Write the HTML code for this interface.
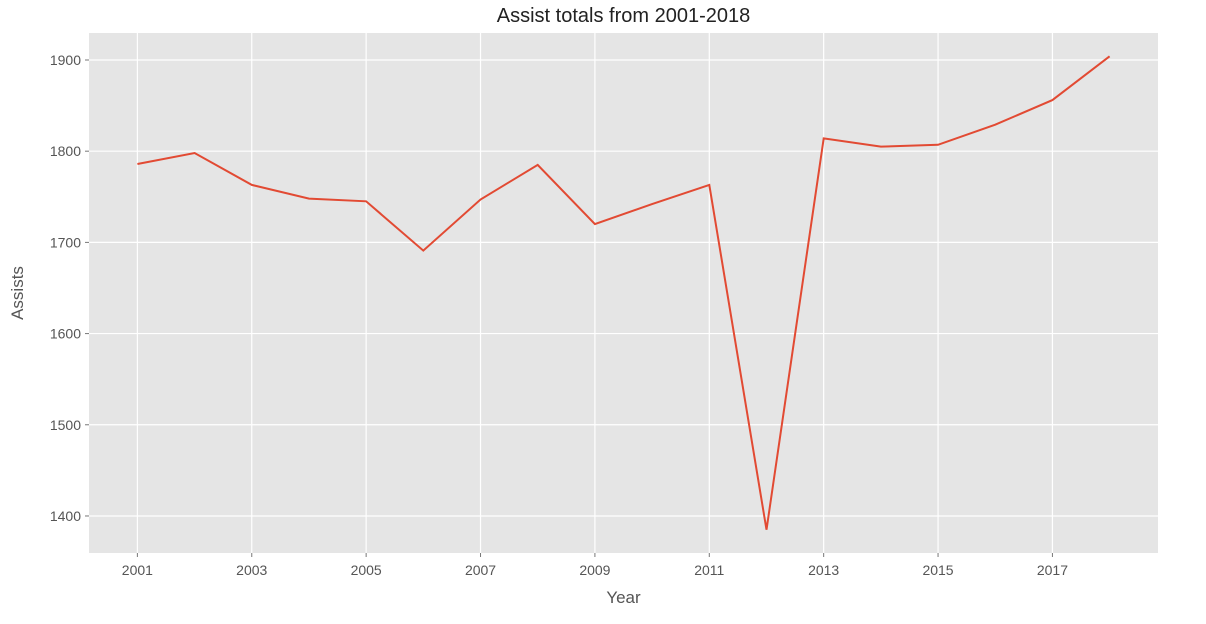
<!DOCTYPE html>
<html><head><meta charset="utf-8"><style>
body{margin:0;background:#fff;}
svg{display:block;font-family:"Liberation Sans","DejaVu Sans",sans-serif;}
</style></head><body>
<svg id="chart" width="1206" height="624"></svg>
<script>
const years=[2001,2002,2003,2004,2005,2006,2007,2008,2009,2010,2011,2012,2013,2014,2015,2016,2017,2018];
const assists=[1786,1798,1763,1748,1745,1691,1747,1785,1720,1742,1763,1385,1814,1805,1807,1829,1856,1904];
const xTicks=[2001,2003,2005,2007,2009,2011,2013,2015,2017];
const yTicks=[1400,1500,1600,1700,1800,1900];
const L=89,R=1158,T=33,B=553;
const xMin=2000.154,xMax=2018.846,yMin=1359.4,yMax=1929.6;
const sx=v=>L+(v-xMin)/(xMax-xMin)*(R-L);
const sy=v=>B-(v-yMin)/(yMax-yMin)*(B-T);
const svg=document.getElementById('chart');
const NS='http://www.w3.org/2000/svg';
function mk(tag,attrs,parent){const e=document.createElementNS(NS,tag);for(const k in attrs)e.setAttribute(k,attrs[k]);(parent||svg).appendChild(e);return e;}
const bg=mk('rect',{x:L,y:T,width:R-L,height:B-T,fill:'#e5e5e5'});


xTicks.forEach(t=>{
  const g=mk('line',{x1:sx(t),x2:sx(t),y1:T,y2:B,stroke:'#fff','stroke-width':1.2});
  
  
  mk('line',{x1:sx(t),x2:sx(t),y1:B,y2:B+4,stroke:'#777'});
  const tx=mk('text',{x:sx(t),y:B+22,'text-anchor':'middle','font-size':14,fill:'#555'});
  tx.textContent=t;
  
  
});
yTicks.forEach(t=>{
  const g=mk('line',{x1:L,x2:R,y1:sy(t),y2:sy(t),stroke:'#fff','stroke-width':1.2});
  
  
  mk('line',{x1:L-4,x2:L,y1:sy(t),y2:sy(t),stroke:'#777'});
  const tx=mk('text',{x:L-8,y:sy(t)+5,'text-anchor':'end','font-size':14,fill:'#555'});
  tx.textContent=t;
  
  
});
const d=years.map((y,i)=>(i?'L':'M')+sx(y).toFixed(1)+','+sy(assists[i]).toFixed(1)).join(' ');
const line=mk('path',{d:d,fill:'none',stroke:'#e24a33','stroke-width':2});


const title=mk('text',{x:(L+R)/2,y:22,'text-anchor':'middle','font-size':20,fill:'#222'});
title.textContent='Assist totals from 2001-2018';


const xl=mk('text',{x:(L+R)/2,y:603,'text-anchor':'middle','font-size':17,fill:'#555'});
xl.textContent='Year';


const yl=mk('text',{x:0,y:0,'text-anchor':'middle','font-size':17,fill:'#555',transform:'translate(23,'+((T+B)/2)+') rotate(-90)'});
yl.textContent='Assists';


</script>
</body></html>
